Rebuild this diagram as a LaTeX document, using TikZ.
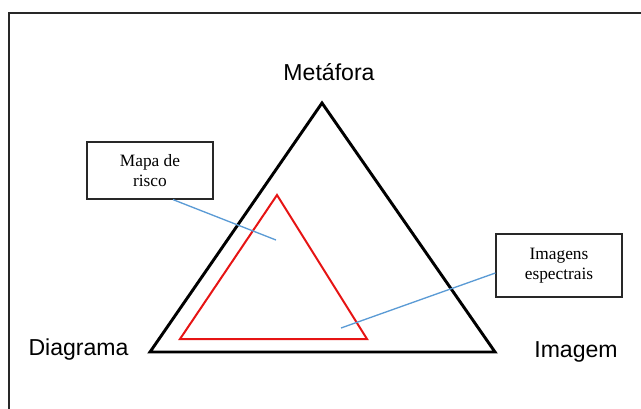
\documentclass[tikz,border=0pt]{standalone}
\usepackage{fontspec}
\setmainfont{Liberation Serif}
\setsansfont{Liberation Sans}
\usepackage{xcolor}
\definecolor{fioazul}{RGB}{91,155,213}
\definecolor{vermelho}{RGB}{230,20,20}
\definecolor{moldura}{RGB}{40,40,40}

\begin{document}
\begin{tikzpicture}[x=0.75pt,y=-0.75pt,
	vertice/.style={font=\sffamily\fontsize{17.3}{20}\selectfont,anchor=base,inner sep=0pt},
	caixa/.style={draw=moldura,line width=0.9pt,fill=white,align=center,
		font=\fontsize{13}{15.5}\selectfont,minimum width=94.5pt,inner sep=0pt},
	seta/.style={draw=fioazul,line width=1pt}]
	\useasboundingbox (0,0) rectangle (641,408);

	% Moldura
	\begin{scope}
		\clip (0,0) rectangle (641,408);
		\draw[line width=1.6pt,moldura] (9,13) rectangle (660,430);
	\end{scope}

	% Triangulo externo
	\coordinate (topo) at (322,103);
	\coordinate (esq) at (150,352);
	\coordinate (dir) at (495,352);
	\draw[line width=2.2pt,line join=miter] (topo) -- (dir) -- (esq) -- cycle;

	% Triangulo interno
	\coordinate (rtopo) at (277,195);
	\coordinate (resq) at (180,339);
	\coordinate (rdir) at (367,339);
	\draw[line width=1.5pt,vermelho] (rtopo) -- (rdir) -- (resq) -- cycle;

	% Vertices
	\node[vertice] (metafora) at (329,80) {Metáfora};
	\node[vertice] (diagrama) at (78.5,355) {Diagrama};
	\node[vertice] (imagem) at (576,357) {Imagem};

	% Caixas
	\node[caixa,minimum height=42.75pt] (mapa) at (150,170.5) {Mapa de\\risco};
	\node[caixa,minimum height=47.25pt] (espectro) at (559,265.5) {Imagens\\espectrais};

	% Ligacoes
	\coordinate (pmapa) at (276,240);
	\coordinate (pespectro) at (341,328);
	\draw[seta] ([xshift=17.25pt]mapa.south) -- (pmapa);
	\draw[seta] ([yshift=-5.6pt]espectro.west) -- (pespectro);
\end{tikzpicture}
\end{document}
